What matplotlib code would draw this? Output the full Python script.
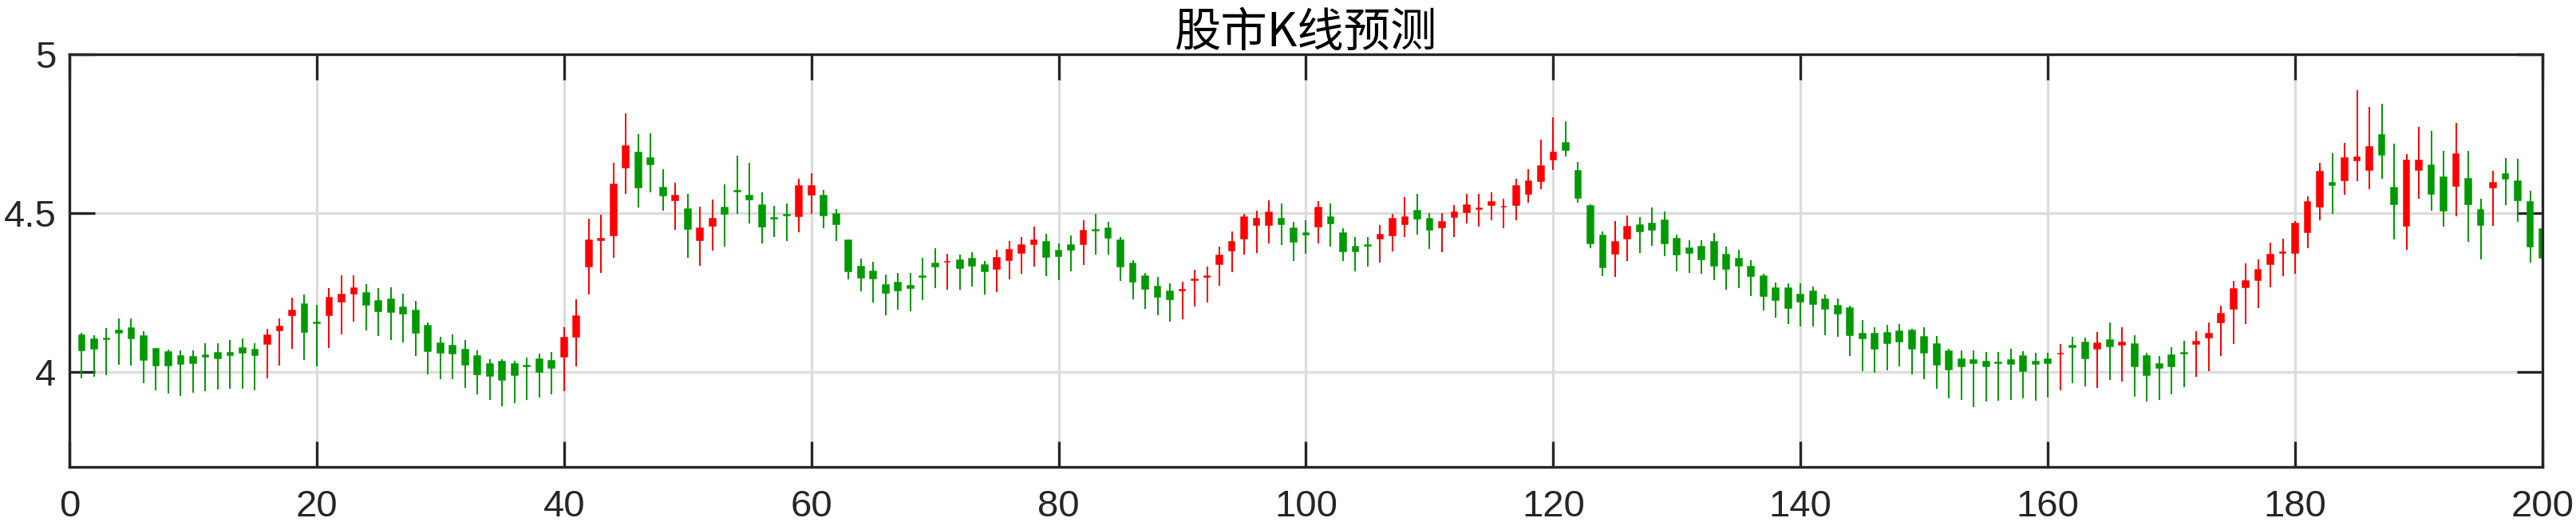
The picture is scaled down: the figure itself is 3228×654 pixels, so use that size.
import matplotlib
matplotlib.use('Agg')
import matplotlib.pyplot as plt
import numpy as np

# ---- data ----
opens = [4.114, 4.102, 4.105, 4.130, 4.138, 4.112, 4.072, 4.063, 4.049, 4.046,
         4.052, 4.060, 4.060, 4.075, 4.070, 4.087, 4.131, 4.178, 4.214, 4.155,
         4.177, 4.220, 4.245, 4.249, 4.224, 4.229, 4.204, 4.194, 4.146, 4.091,
         4.082, 4.070, 4.050, 4.025, 4.032, 4.025, 4.020, 4.040, 4.034, 4.047,
         4.109, 4.331, 4.415, 4.430, 4.644, 4.692, 4.672, 4.581, 4.539, 4.513,
         4.414, 4.459, 4.518, 4.571, 4.556, 4.526, 4.484, 4.494, 4.489, 4.557,
         4.554, 4.496, 4.413, 4.330, 4.317, 4.274, 4.282, 4.272, 4.301, 4.340,
         4.345, 4.352, 4.357, 4.337, 4.323, 4.351, 4.373, 4.401, 4.410, 4.382,
         4.400, 4.401, 4.448, 4.452, 4.415, 4.342, 4.302, 4.269, 4.254, 4.255,
         4.289, 4.298, 4.338, 4.381, 4.419, 4.461, 4.461, 4.483, 4.451, 4.436,
         4.456, 4.488, 4.438, 4.393, 4.398, 4.419, 4.430, 4.464, 4.508, 4.483,
         4.454, 4.487, 4.502, 4.512, 4.524, 4.519, 4.524, 4.560, 4.600, 4.668,
         4.722, 4.634, 4.523, 4.428, 4.371, 4.418, 4.461, 4.466, 4.478, 4.420,
         4.390, 4.393, 4.410, 4.370, 4.357, 4.330, 4.302, 4.264, 4.264, 4.244,
         4.252, 4.227, 4.209, 4.201, 4.121, 4.121, 4.123, 4.128, 4.131, 4.111,
         4.088, 4.065, 4.040, 4.038, 4.032, 4.029, 4.038, 4.050, 4.032, 4.040,
         4.056, 4.082, 4.093, 4.071, 4.101, 4.084, 4.086, 4.050, 4.025, 4.053,
         4.060, 4.086, 4.107, 4.154, 4.197, 4.265, 4.288, 4.338, 4.374, 4.375,
         4.440, 4.519, 4.595, 4.602, 4.665, 4.636, 4.746, 4.581, 4.460, 4.636,
         4.651, 4.613, 4.584, 4.608, 4.509, 4.579, 4.622, 4.601, 4.534, 4.450]

highs = [4.123, 4.116, 4.138, 4.167, 4.168, 4.128, 4.075, 4.069, 4.067, 4.068,
         4.090, 4.090, 4.099, 4.105, 4.091, 4.135, 4.168, 4.232, 4.244, 4.210,
         4.263, 4.303, 4.303, 4.276, 4.263, 4.267, 4.246, 4.222, 4.156, 4.109,
         4.117, 4.099, 4.068, 4.039, 4.040, 4.035, 4.045, 4.057, 4.062, 4.141,
         4.229, 4.481, 4.495, 4.657, 4.815, 4.749, 4.752, 4.638, 4.596, 4.561,
         4.520, 4.542, 4.590, 4.680, 4.657, 4.566, 4.523, 4.529, 4.609, 4.625,
         4.573, 4.513, 4.413, 4.357, 4.346, 4.305, 4.312, 4.312, 4.360, 4.388,
         4.372, 4.370, 4.377, 4.350, 4.385, 4.412, 4.425, 4.456, 4.435, 4.404,
         4.429, 4.478, 4.497, 4.471, 4.423, 4.352, 4.310, 4.299, 4.278, 4.284,
         4.320, 4.331, 4.395, 4.442, 4.497, 4.506, 4.541, 4.529, 4.473, 4.477,
         4.538, 4.530, 4.452, 4.424, 4.425, 4.462, 4.498, 4.550, 4.560, 4.500,
         4.500, 4.524, 4.559, 4.559, 4.564, 4.545, 4.607, 4.639, 4.732, 4.801,
         4.790, 4.661, 4.528, 4.443, 4.474, 4.493, 4.487, 4.518, 4.505, 4.431,
         4.415, 4.413, 4.437, 4.393, 4.384, 4.352, 4.309, 4.282, 4.279, 4.279,
         4.269, 4.244, 4.230, 4.209, 4.162, 4.141, 4.148, 4.151, 4.136, 4.141,
         4.112, 4.072, 4.068, 4.067, 4.062, 4.062, 4.072, 4.064, 4.059, 4.059,
         4.087, 4.109, 4.107, 4.126, 4.156, 4.141, 4.116, 4.059, 4.050, 4.076,
         4.097, 4.127, 4.154, 4.208, 4.286, 4.340, 4.355, 4.407, 4.419, 4.474,
         4.552, 4.659, 4.689, 4.722, 4.887, 4.834, 4.843, 4.718, 4.685, 4.771,
         4.759, 4.697, 4.783, 4.697, 4.545, 4.633, 4.673, 4.670, 4.571, 4.460]

lows = [3.978, 3.984, 3.990, 4.021, 4.019, 3.965, 3.941, 3.931, 3.925, 3.934,
        3.939, 3.944, 3.947, 3.947, 3.941, 3.978, 4.019, 4.072, 4.037, 4.017,
        4.074, 4.117, 4.158, 4.131, 4.112, 4.101, 4.093, 4.049, 3.992, 3.977,
        3.977, 3.950, 3.930, 3.910, 3.890, 3.900, 3.910, 3.920, 3.930, 3.940,
        4.017, 4.243, 4.312, 4.358, 4.560, 4.518, 4.566, 4.508, 4.446, 4.360,
        4.334, 4.382, 4.393, 4.497, 4.468, 4.404, 4.424, 4.412, 4.439, 4.496,
        4.451, 4.411, 4.290, 4.253, 4.219, 4.177, 4.195, 4.190, 4.225, 4.263,
        4.258, 4.257, 4.269, 4.244, 4.250, 4.291, 4.309, 4.331, 4.300, 4.289,
        4.316, 4.337, 4.370, 4.369, 4.287, 4.229, 4.198, 4.177, 4.158, 4.164,
        4.206, 4.218, 4.270, 4.313, 4.369, 4.373, 4.404, 4.399, 4.348, 4.372,
        4.403, 4.395, 4.350, 4.316, 4.331, 4.344, 4.379, 4.424, 4.432, 4.386,
        4.376, 4.423, 4.466, 4.457, 4.476, 4.451, 4.478, 4.533, 4.575, 4.636,
        4.677, 4.533, 4.390, 4.302, 4.299, 4.348, 4.375, 4.397, 4.363, 4.315,
        4.310, 4.308, 4.288, 4.257, 4.264, 4.238, 4.193, 4.169, 4.149, 4.142,
        4.143, 4.116, 4.111, 4.049, 4.002, 3.997, 4.004, 4.018, 3.992, 3.977,
        3.946, 3.916, 3.911, 3.889, 3.905, 3.908, 3.910, 3.916, 3.908, 3.918,
        3.942, 3.964, 3.955, 3.950, 3.973, 3.968, 3.922, 3.906, 3.911, 3.930,
        3.951, 3.983, 4.002, 4.050, 4.086, 4.149, 4.200, 4.265, 4.301, 4.309,
        4.390, 4.476, 4.496, 4.558, 4.599, 4.575, 4.609, 4.416, 4.384, 4.545,
        4.508, 4.458, 4.490, 4.410, 4.355, 4.460, 4.526, 4.472, 4.343, 4.290]

closes = [4.067, 4.072, 4.103, 4.122, 4.104, 4.036, 4.020, 4.020, 4.024, 4.027,
          4.046, 4.043, 4.051, 4.060, 4.051, 4.114, 4.143, 4.193, 4.125, 4.152,
          4.232, 4.242, 4.264, 4.210, 4.190, 4.187, 4.182, 4.122, 4.064, 4.059,
          4.056, 4.021, 3.992, 3.986, 3.973, 3.990, 4.018, 3.998, 4.013, 4.107,
          4.176, 4.413, 4.418, 4.589, 4.710, 4.581, 4.653, 4.556, 4.556, 4.449,
          4.453, 4.481, 4.497, 4.568, 4.542, 4.456, 4.481, 4.492, 4.586, 4.584,
          4.492, 4.464, 4.315, 4.295, 4.293, 4.247, 4.255, 4.263, 4.298, 4.331,
          4.347, 4.326, 4.333, 4.315, 4.360, 4.383, 4.400, 4.413, 4.361, 4.363,
          4.383, 4.445, 4.445, 4.421, 4.331, 4.283, 4.260, 4.235, 4.227, 4.257,
          4.291, 4.300, 4.367, 4.410, 4.488, 4.481, 4.501, 4.464, 4.409, 4.433,
          4.518, 4.466, 4.378, 4.380, 4.396, 4.433, 4.481, 4.488, 4.483, 4.446,
          4.471, 4.501, 4.526, 4.515, 4.536, 4.521, 4.586, 4.599, 4.648, 4.692,
          4.698, 4.547, 4.405, 4.328, 4.408, 4.456, 4.441, 4.446, 4.404, 4.368,
          4.373, 4.353, 4.333, 4.323, 4.333, 4.300, 4.237, 4.225, 4.200, 4.220,
          4.212, 4.197, 4.182, 4.114, 4.104, 4.071, 4.091, 4.094, 4.071, 4.059,
          4.022, 4.008, 4.018, 4.026, 4.016, 4.027, 4.024, 4.003, 4.024, 4.028,
          4.058, 4.076, 4.041, 4.091, 4.079, 4.093, 4.018, 3.988, 4.011, 4.018,
          4.058, 4.094, 4.121, 4.184, 4.262, 4.286, 4.322, 4.370, 4.376, 4.468,
          4.535, 4.631, 4.587, 4.673, 4.676, 4.709, 4.684, 4.528, 4.665, 4.665,
          4.561, 4.506, 4.686, 4.528, 4.463, 4.595, 4.607, 4.541, 4.393, 4.360]

x_ticks = list(range(0, 201, 20))
y_ticks = [4, 4.5, 5]
y_tick_labels = ['4', '4.5', '5']
title_text = '股市K线预测'

# ---- drawing ----
UP_COLOR = '#ff0000'
DOWN_COLOR = '#009900'
AX_COLOR = '#262626'

o = np.array(opens)
h = np.array(highs)
l = np.array(lows)
c = np.array(closes)
x = np.arange(1, len(o) + 1)
colors = np.where(c > o, UP_COLOR, DOWN_COLOR)

plt.rcParams['font.family'] = ['Liberation Sans', 'DejaVu Sans']

fig = plt.figure(figsize=(32.28, 6.54), dpi=100)
ax = fig.add_axes([0.02695, 0.1055, 0.96004, 0.7905])

ax.vlines(x, l, h, colors=colors, linewidth=1.44, zorder=2)
ax.bar(x, np.abs(c - o), bottom=np.minimum(o, c), width=0.5,
       color=colors, edgecolor=colors, linewidth=1.08, zorder=3)

ax.set_xlim(0, 200)
ax.set_ylim(3.7, 5)
ax.set_xticks(x_ticks)
ax.set_xticklabels([str(t) for t in x_ticks])
ax.set_yticks(y_ticks)
ax.set_yticklabels(y_tick_labels)

ax.grid(True, color='#dcdcdc', linewidth=2.3)
ax.set_axisbelow(True)

for s in ax.spines.values():
    s.set_linewidth(2.4)
    s.set_color(AX_COLOR)
    s.set_zorder(5)

ax.tick_params(direction='in', length=23, width=2.4, top=True, right=True,
               labelsize=34, colors=AX_COLOR)
ax.tick_params(axis='x', pad=20)
ax.tick_params(axis='y', pad=12)

ax.set_title(title_text, fontsize=42, color='black', pad=7,
             family=['Noto Sans CJK SC', 'DejaVu Sans'])

fig.savefig('out.png', dpi=100)
